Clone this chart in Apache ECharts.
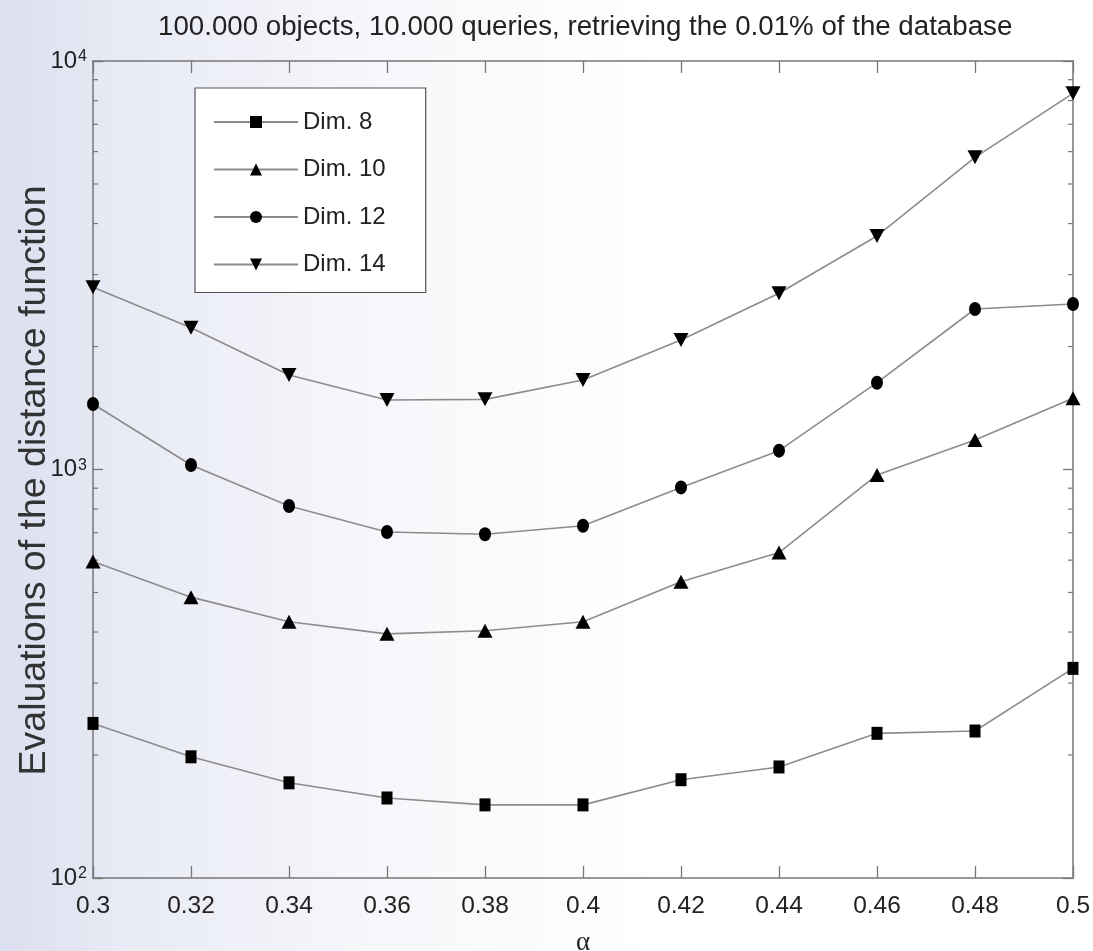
<!DOCTYPE html>
<html>
<head>
<meta charset="utf-8">
<script src="https://cdn.jsdelivr.net/npm/echarts@6/dist/echarts.min.js"></script>
<style>
html,body{margin:0;padding:0;background:#fff;}
#chart{width:1093px;height:951px;}
</style>
</head>
<body>
<div id="chart"></div>
<script>
// ---- data ----
var alphas = [0.30, 0.32, 0.34, 0.36, 0.38, 0.40, 0.42, 0.44, 0.46, 0.48, 0.50];
var dim8  = [239, 198, 171, 157, 151, 151, 174, 187, 226, 229, 326];
var dim10 = [595, 487, 424, 396, 403, 424, 531, 626, 970, 1181, 1494];
var dim12 = [1447, 1026, 814, 703, 694, 728, 904, 1112, 1631, 2471, 2541];
var dim14 = [2793, 2224, 1703, 1480, 1485, 1656, 2075, 2700, 3730, 5810, 8335];
var seriesNames = ['Dim. 8', 'Dim. 10', 'Dim. 12', 'Dim. 14'];
var minorTickValues = [200, 300, 400, 500, 600, 700, 800, 900, 2000, 3000, 4000, 5000, 6000, 7000, 8000, 9000];
var titleText = '100.000 objects, 10.000 queries, retrieving the 0.01% of the database';
var yName = 'Evaluations of the distance function';
var xName = 'α';

function pairs(vals) { return alphas.map(function (a, i) { return [a, vals[i]]; }); }

var chart = echarts.init(document.getElementById('chart'), null, {renderer: 'canvas'});
var AX = '#777777';
var TXT = '#222222';
var LINE = '#8c8c8c';
var FONT = '"Liberation Sans", Arial, sans-serif';

function lineSeries(name, vals, symbol, size, rot) {
  return {
    name: name, type: 'line', data: pairs(vals),
    symbol: symbol, symbolSize: size, symbolRotate: rot || 0,
    showSymbol: true,
    lineStyle: {color: LINE, width: 1.6},
    itemStyle: {color: '#000000', borderWidth: 0},
    emphasis: {disabled: true},
    animation: false, z: 3
  };
}

var option = {
  backgroundColor: {
    type: 'linear', x: 0, y: 0, x2: 1, y2: 0,
    colorStops: [
      {offset: 0, color: '#dcdfef'},
      {offset: 0.12, color: '#e9ebf5'},
      {offset: 0.35, color: '#f7f7fb'},
      {offset: 0.6, color: '#ffffff'},
      {offset: 1, color: '#ffffff'}
    ]
  },
  animation: false,
  title: {
    text: titleText, left: 153, top: 8,
    textStyle: {fontFamily: FONT, fontSize: 27.7, fontWeight: 'normal', color: TXT}
  },
  legend: {
    data: seriesNames, orient: 'vertical', left: 195, top: 88,
    padding: [22, 40, 16, 18],
    itemWidth: 84, itemHeight: 15, itemGap: 23.5,
    backgroundColor: '#ffffff', borderColor: '#555555', borderWidth: 1.2, borderRadius: 0,
    textStyle: {fontFamily: FONT, fontSize: 24, color: TXT, lineHeight: 24},
    selectedMode: false
  },
  grid: {left: 93, right: 20, top: 61, bottom: 73, containLabel: false, outerBoundsMode: 'none'},
  xAxis: [{
    type: 'value', min: 0.3, max: 0.5, interval: 0.02, position: 'bottom',
    name: xName, nameLocation: 'middle', nameGap: 51, nameMoveOverlap: false,
    nameTextStyle: {fontFamily: '"Liberation Serif", "DejaVu Serif", serif', fontSize: 27, color: TXT},
    axisLine: {show: true, lineStyle: {color: AX, width: 1.5}},
    axisTick: {show: true, inside: true, length: 12, lineStyle: {color: AX, width: 1.3}},
    axisLabel: {fontFamily: FONT, fontSize: 24.5, color: TXT, margin: 16,
      formatter: function (v) { return String(Math.round(v * 100) / 100); }},
    splitLine: {show: false}
  }, {
    type: 'value', min: 0.3, max: 0.5, interval: 0.02, position: 'top',
    axisLine: {show: true, lineStyle: {color: AX, width: 1.5}},
    axisTick: {show: true, inside: true, length: 12, lineStyle: {color: AX, width: 1.3}},
    axisLabel: {show: false}, splitLine: {show: false}
  }],
  yAxis: [{
    type: 'log', logBase: 10, min: 100, max: 10000, position: 'left',
    name: yName, nameLocation: 'middle', nameGap: 39, nameMoveOverlap: false,
    nameTextStyle: {fontFamily: FONT, fontSize: 37.5, color: '#333333', padding: [0, 22, 0, 0]},
    axisLine: {show: true, lineStyle: {color: AX, width: 1.5}},
    axisTick: {show: true, inside: true, length: 10, lineStyle: {color: AX, width: 1.3}},
    axisLabel: {
      margin: 6,
      formatter: function (v) { return '{b|10}{s|' + Math.round(Math.log10(v)) + '}'; },
      rich: {
        b: {fontFamily: FONT, fontSize: 24, color: TXT, lineHeight: 24, verticalAlign: 'middle'},
        s: {fontFamily: FONT, fontSize: 16, color: TXT, lineHeight: 16, verticalAlign: 'top', padding: [0, 0, 18, 1]}
      }
    },
    splitLine: {show: false}
  }, {
    type: 'log', logBase: 10, min: 100, max: 10000, position: 'right',
    axisLine: {show: true, lineStyle: {color: AX, width: 1.5}},
    axisTick: {show: true, inside: true, length: 10, lineStyle: {color: AX, width: 1.3}},
    axisLabel: {show: false}, splitLine: {show: false}
  }],
  series: [
    lineSeries('Dim. 8', dim8, 'rect', [11, 13], 0),
    lineSeries('Dim. 10', dim10, 'triangle', [15, 14], 0),
    lineSeries('Dim. 12', dim12, 'circle', [12, 14], 0),
    lineSeries('Dim. 14', dim14, 'triangle', [15, 14], 180),
    {
      name: 'minorTicks', type: 'custom', silent: true, clip: false, z: 2,
      data: minorTickValues.map(function (v) { return [0.3, v]; }),
      renderItem: function (params, api) {
        var v = api.value(1);
        var pl = api.coord([0.3, v]);
        var pr = api.coord([0.5, v]);
        var st = {stroke: AX, lineWidth: 1.2};
        return {
          type: 'group',
          children: [
            {type: 'line', shape: {x1: pl[0], y1: pl[1], x2: pl[0] + 5, y2: pl[1]}, style: st},
            {type: 'line', shape: {x1: pr[0], y1: pr[1], x2: pr[0] - 5, y2: pr[1]}, style: st}
          ]
        };
      }
    }
  ]
};
chart.setOption(option);
</script>
</body>
</html>
